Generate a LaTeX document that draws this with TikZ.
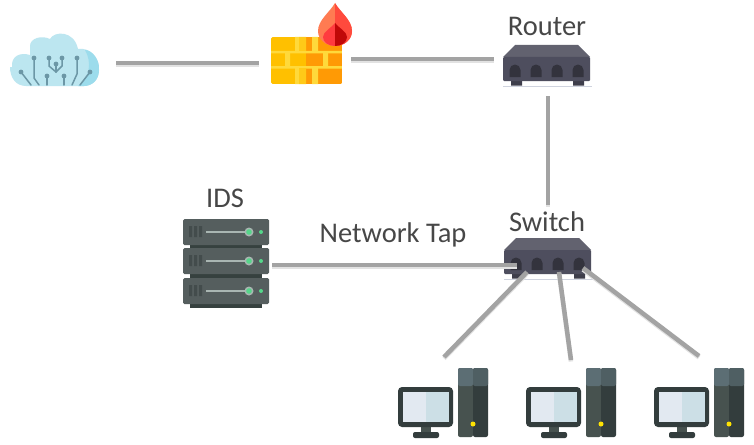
\documentclass[tikz,border=0pt]{standalone}
\usepackage{fontspec}
\setmainfont{Carlito}
\definecolor{wire}{HTML}{A3A3A3}
\definecolor{wireshade}{HTML}{E2E2E2}
\definecolor{boxdark}{HTML}{4E4E5E}
\definecolor{boxtop}{HTML}{62626F}
\definecolor{boxbase}{HTML}{CFD3DE}
\definecolor{srv}{HTML}{555E5E}
\definecolor{srvdark}{HTML}{36413F}
\definecolor{srvslot}{HTML}{434C4C}
\definecolor{srvlight}{HTML}{A9B6B2}
\definecolor{led}{HTML}{55D68A}
\definecolor{towerA}{HTML}{47524F}
\definecolor{towerB}{HTML}{333D3D}
\definecolor{towertopA}{HTML}{5C6E74}
\definecolor{towertopB}{HTML}{4F5F63}
\definecolor{scrA}{HTML}{E2E9F1}
\definecolor{scrB}{HTML}{CCDFE6}
\definecolor{brick}{HTML}{FFC000}
\definecolor{brickB}{HTML}{FF9A05}
\definecolor{mortar}{HTML}{FFD93B}
\definecolor{cloudA}{HTML}{BCE6F0}
\definecolor{cloudB}{HTML}{9CDCEC}
\definecolor{circ}{HTML}{6C97A6}
\definecolor{flameA}{HTML}{FF7B52}
\definecolor{flameB}{HTML}{FF4A3D}
\definecolor{flameC}{HTML}{FF3B3F}
\definecolor{flameD}{HTML}{C00808}
\newcommand{\outerflame}{(335,3) .. controls (340,12) and (352,20) .. (352,31)
      .. controls (352,40) and (344,46) .. (335,46) .. controls (326,46) and (318,40) .. (318,31)
      .. controls (318,20) and (330,12) .. (335,3) -- cycle}
\newcommand{\innerflame}{(335,23) .. controls (339,28) and (347,32) .. (347,37)
      .. controls (347,42) and (342,46) .. (335,46) .. controls (328,46) and (323,42) .. (323,37)
      .. controls (323,32) and (331,28) .. (335,23) -- cycle}
\tikzset{
  x=1pt,y=-1pt,
  lbl/.style={font=\fontsize{28.5}{32}\selectfont,text=black!72,inner sep=0pt},
  wireline/.style={line width=4.5pt,draw=wire},
  wireshadow/.style={line width=4.5pt,draw=wireshade,transform canvas={yshift=-1.5pt}},
  trace/.style={line width=1.5pt,draw=circ,line cap=round},
  netbox/.pic={
    \fill[boxbase] (-44,7.5) rectangle (45,9);
    \fill[boxdark!80!black] (-36,1) rectangle (-25,7.5) (26,1) rectangle (37,7.5);
    \fill[boxtop] (-32,-33) -- (31,-33) -- (43,-21) -- (-44,-21) -- cycle;
    \fill[boxdark,rounded corners=1pt] (-44,-21) rectangle (43,3);
    \foreach \px in {-32,-11,10,31}{
      \fill[boxdark!65!black] (\px-5.5,-8) arc[start angle=180,end angle=360,radius=5.5] -- (\px+5.5,-1) -- (\px-5.5,-1) -- cycle;
    }
  },
  serverunit/.pic={
    \fill[srv,rounded corners=1.5pt] (0,0) rectangle (86,26);
    \fill[srvslot] (6,7) rectangle (9,18) (11,7) rectangle (14,18) (16,7) rectangle (19,18);
    \fill[srvlight] (23,12) rectangle (62,14);
    \fill[srvlight] (66,13) circle[radius=4.5];
    \fill[led] (66,13) circle[radius=2.8];
    \fill[led] (78,13) circle[radius=2];
  },
  computer/.pic={
    \fill[towerA,rounded corners=2pt] (60,0) rectangle (75,69);
    \fill[towerB,rounded corners=2pt] (75,0) rectangle (90,69);
    \fill[towertopA,rounded corners=2pt] (60,0) rectangle (75,18);
    \fill[towertopB,rounded corners=2pt] (75,0) rectangle (90,18);
    \fill[yellow!85!orange] (75,56) circle[radius=2.5];
    \fill[towerA] (23,58) rectangle (33,65);
    \fill[towerB,rounded corners=2pt] (15,64) rectangle (41,70);
    \fill[towerB,rounded corners=4pt] (0,19) rectangle (55,59);
    \fill[scrA] (5,24) rectangle (28,54);
    \fill[scrB] (28,24) rectangle (51,54);
  }
}
\begin{document}
\begin{tikzpicture}
\useasboundingbox (0,0) rectangle (754,444);
\fill[white] (0,0) rectangle (754,444);

% anchors for the connectors
\coordinate (cloudR) at (116,63);
\coordinate (fwL) at (259,63);
\coordinate (fwR) at (351,59);
\coordinate (routerL) at (494,59);
\coordinate (routerB) at (548,96);
\coordinate (switchT) at (548,205);
\coordinate (idsR) at (272,265);
\coordinate (tapEnd) at (517,265);
\coordinate (portA) at (527,272);
\coordinate (portB) at (559,272);
\coordinate (portC) at (583,268);
\coordinate (pcA) at (444,357);
\coordinate (pcB) at (571,360);
\coordinate (pcC) at (699,356);

% cloud
\fill[cloudA] (12,67) .. controls (11,56) and (20,52) .. (30,55) -- (30,46) .. controls (30,38) and (42,35) .. (50,39)
     .. controls (54,31) and (74,30) .. (78,49) .. controls (90,47) and (100,58) .. (99,70)
     .. controls (99,80) and (92,86) .. (84,86) -- (26,86) .. controls (16,86) and (10,78) .. (10,67) -- cycle;
\fill[cloudB] (85,50) .. controls (92,50) and (100,60) .. (99,70) .. controls (99,80) and (92,86) .. (84,86) -- (78,86)
     .. controls (90,78) and (92,62) .. (85,50) -- cycle;
\draw[trace] (21,72) -- (31,85);
\draw[trace] (34,58) -- (34,78) -- (39,85);
\draw[trace] (47,76) -- (47,85);
\draw[trace] (49,58) -- (49,66) -- (56,72) -- (62,66) -- (62,58);
\draw[trace] (56,64) -- (56,72);
\draw[trace] (64,76) -- (64,85);
\draw[trace] (77,58) -- (77,74) -- (72,85);
\draw[trace] (90,72) -- (80,85);
\foreach \cx/\cy in {21/72,34/58,47/76,49/58,62/58,56/64,64/76,77/58,90/72}
  \fill[circ] (\cx,\cy) circle[radius=2.4];

% firewall
\begin{scope}
  \clip[rounded corners=1.5pt] (271,37) rectangle (342,84);
  \fill[brick] (271,37) rectangle (342,84);
  \fill[brickB] (306,37) rectangle (342,84);
  \fill[mortar] (271,51) rectangle (342,53.5) (271,66) rectangle (342,68.5);
  \fill[mortar] (295,37) rectangle (299,51) (295,68) rectangle (299,84);
  \fill[brick!60!mortar] (299,37) rectangle (306,51) (299,68) rectangle (306,84);
  \fill[mortar] (312,37) rectangle (318,51) (312,68) rectangle (318,84);
  \fill[mortar] (285,53) rectangle (290,66) (323,53) rectangle (328,66);
\end{scope}
% flame
\fill[flameA] \outerflame;
\begin{scope}
  \clip (335,0) rectangle (355,50);
  \fill[flameB] \outerflame;
\end{scope}
\fill[flameC] \innerflame;
\begin{scope}
  \clip (335,0) rectangle (355,50);
  \fill[flameD] \innerflame;
\end{scope}

% router, switch
\pic at (547,78) {netbox};
\pic at (548,271) {netbox};

% server stack
\fill[srvdark] (190,302) rectangle (262,308);
\fill[srvdark] (190,243) rectangle (262,249);
\fill[srvdark] (190,272) rectangle (262,279);
\pic at (183,219) {serverunit};
\pic at (183,248) {serverunit};
\pic at (183,278) {serverunit};

% computers
\pic at (398,368) {computer};
\pic at (526,368) {computer};
\pic at (654,368) {computer};

% labels
\node[lbl] (routerlabel) at (547,26) {Router};
\node[lbl] (switchlabel) at (547,222) {Switch};
\node[lbl] (idslabel) at (225,198) {IDS};
\node[lbl] (taplabel) at (393,235) {Network Tap};

% connectors
\foreach \p/\q in {cloudR/fwL,fwR/routerL,routerB/switchT,idsR/tapEnd,portA/pcA,portB/pcB,portC/pcC}{
  \draw[wireshadow] (\p) -- (\q);
}
\foreach \p/\q in {cloudR/fwL,fwR/routerL,routerB/switchT,idsR/tapEnd,portA/pcA,portB/pcB,portC/pcC}{
  \draw[wireline] (\p) -- (\q);
}
\end{tikzpicture}
\end{document}
